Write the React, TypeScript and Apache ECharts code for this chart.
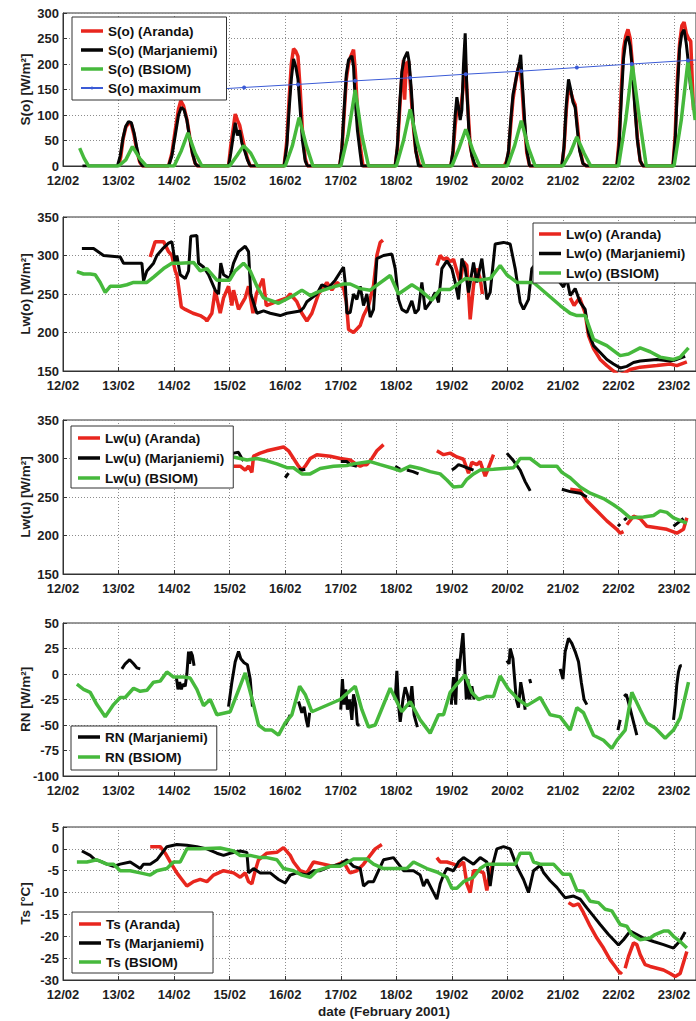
import React, { useEffect, useRef } from "react";
import * as echarts from "echarts";

type Pt = (number | string)[];

// ---------- tick labels ----------
const dayTicks = [12, 13, 14, 15, 16, 17, 18, 19, 20, 21, 22, 23];
const monthSuffix = "/02";
const xTitle = "date (February 2001)";

// ---------- Panel 1: S(o) ----------
const soAranda: Pt[] = [
  [13.0, 0], [13.04, 18], [13.08, 52], [13.13, 76], [13.18, 84], [13.23, 82], [13.28, 60], [13.33, 30], [13.38, 8], [13.43, 0],
  [13.9, 0], [13.96, 25], [14.02, 70], [14.08, 112], [14.12, 128], [14.17, 118], [14.23, 92], [14.28, 58], [14.33, 25], [14.38, 5], [14.42, 0],
  [14.98, 0], [15.02, 40], [15.06, 70], [15.1, 102], [15.14, 90], [15.18, 80], [15.22, 60], [15.27, 35], [15.32, 15], [15.37, 0],
  [15.98, 0], [16.03, 50], [16.07, 130], [16.11, 200], [16.15, 230], [16.19, 225], [16.23, 215], [16.27, 150], [16.31, 70], [16.36, 15], [16.4, 0],
  [16.98, 0], [17.02, 30], [17.06, 100], [17.1, 170], [17.14, 200], [17.18, 215], [17.23, 228], [17.26, 190], [17.3, 110], [17.35, 40], [17.4, 0],
  [17.98, 0], [18.02, 35], [18.06, 110], [18.1, 175], [18.13, 208], [18.15, 130], [18.18, 200], [18.22, 205], [18.26, 150], [18.3, 85], [18.35, 30], [18.42, 0],
  [18.98, 0], [19.02, 25], [19.06, 80], [19.1, 120], [19.15, 100], [19.2, 150], [19.24, 205], [19.28, 130], [19.33, 40], [19.4, 0],
  [19.94, 0], [19.98, 8], [20.02, 25], [20.06, 80], [20.1, 130], [20.14, 160], [20.18, 185], [20.22, 200], [20.26, 160], [20.3, 90], [20.35, 25], [20.4, 0],
  [20.98, 0], [21.02, 35], [21.06, 110], [21.1, 155], [21.14, 145], [21.18, 130], [21.22, 120], [21.26, 80], [21.3, 35], [21.36, 5], [21.42, 0],
  [21.97, 0], [22.01, 50], [22.05, 150], [22.09, 230], [22.13, 255], [22.17, 268], [22.21, 250], [22.25, 200], [22.29, 130], [22.34, 55], [22.39, 10], [22.44, 0],
  [22.98, 0], [23.02, 60], [23.06, 170], [23.1, 240], [23.14, 275], [23.18, 282], [23.22, 260], [23.26, 250], [23.3, 245], [23.33, 160], [23.35, 110],
];
const soMarj: Pt[] = [
  [12.35, 0], [12.98, 0], [13.03, 20], [13.08, 55], [13.13, 78], [13.18, 87], [13.23, 85], [13.28, 65], [13.33, 35], [13.38, 10], [13.43, 0],
  [13.9, 0], [13.96, 20], [14.02, 60], [14.08, 100], [14.13, 115], [14.18, 110], [14.23, 90], [14.28, 55], [14.33, 25], [14.38, 5], [14.42, 0],
  [14.98, 0], [15.02, 25], [15.06, 55], [15.1, 85], [15.14, 60], [15.18, 70], [15.22, 45], [15.27, 30], [15.32, 12], [15.37, 0],
  [15.98, 0], [16.03, 40], [16.07, 110], [16.11, 170], [16.15, 210], [16.19, 195], [16.23, 170], [16.27, 110], [16.31, 50], [16.36, 10], [16.4, 0],
  [16.98, 0], [17.02, 35], [17.06, 110], [17.1, 180], [17.14, 208], [17.2, 216], [17.23, 195], [17.26, 130], [17.3, 70], [17.35, 25], [17.38, 0],
  [17.98, 0], [18.02, 40], [18.06, 120], [18.1, 185], [18.14, 210], [18.2, 224], [18.23, 205], [18.27, 150], [18.31, 80], [18.35, 30], [18.4, 0],
  [18.98, 0], [19.02, 30], [19.06, 100], [19.09, 135], [19.12, 115], [19.15, 90], [19.18, 110], [19.21, 200], [19.24, 260], [19.27, 150], [19.31, 60], [19.36, 20], [19.42, 0],
  [19.97, 0], [20.02, 30], [20.06, 90], [20.1, 140], [20.14, 162], [20.18, 185], [20.22, 205], [20.24, 218], [20.27, 160], [20.31, 90], [20.35, 30], [20.4, 0],
  [20.98, 0], [21.02, 40], [21.06, 120], [21.1, 170], [21.14, 150], [21.18, 125], [21.22, 115], [21.26, 70], [21.3, 30], [21.36, 5], [21.42, 0],
  [21.97, 0], [22.01, 40], [22.05, 130], [22.09, 210], [22.13, 245], [22.17, 254], [22.21, 235], [22.25, 190], [22.29, 120], [22.34, 50], [22.39, 10], [22.44, 0],
  [22.98, 0], [23.02, 50], [23.06, 150], [23.1, 230], [23.14, 260], [23.18, 267], [23.22, 240], [23.26, 200], [23.3, 150],
];
const soBsiom: Pt[] = [
  [12.3, 35], [12.38, 15], [12.46, 0], [13.0, 0], [13.13, 12], [13.25, 38], [13.38, 15], [13.5, 0],
  [14.0, 0], [14.13, 30], [14.25, 65], [14.38, 25], [14.5, 0], [15.0, 0], [15.13, 20], [15.25, 40], [15.38, 25], [15.5, 0],
  [16.0, 0], [16.13, 40], [16.25, 95], [16.38, 40], [16.5, 0], [17.0, 0], [17.13, 60], [17.26, 149], [17.38, 60], [17.5, 0],
  [18.0, 0], [18.13, 50], [18.25, 111], [18.38, 45], [18.5, 0], [19.0, 0], [19.13, 35], [19.25, 72], [19.38, 30], [19.5, 0],
  [20.0, 0], [20.13, 40], [20.25, 89], [20.38, 35], [20.5, 0], [21.0, 0], [21.13, 25], [21.25, 57], [21.38, 25], [21.5, 0],
  [22.0, 0], [22.13, 90], [22.25, 198], [22.38, 90], [22.5, 0], [23.0, 0], [23.13, 90], [23.25, 205], [23.38, 90],
];
const soMax: Pt[] = [
  [12.25, 135], [13.25, 141], [14.25, 147], [15.26, 154], [16.23, 160], [17.26, 167], [18.25, 173],
  [19.25, 180], [20.25, 186], [21.25, 193], [22.24, 200], [23.25, 207], [24.25, 213],
];

// ---------- Panel 2: Lw(o) ----------
const lwoAranda: Pt[] = [
  [13.57, 298], [13.66, 318], [13.81, 318], [13.9, 305], [13.96, 300], [14.02, 280], [14.05, 275], [14.09, 255], [14.13, 233],
  [14.2, 230], [14.34, 225], [14.47, 222], [14.56, 218], [14.59, 215], [14.68, 225], [14.74, 255], [14.83, 225], [14.89, 245],
  [14.98, 260], [15.04, 235], [15.07, 255], [15.16, 230], [15.28, 245], [15.34, 260], [15.42, 225], [15.48, 250], [15.6, 270],
  [15.66, 235], [15.84, 240], [16.03, 245], [16.09, 250], [16.21, 240], [16.3, 225], [16.39, 215], [16.48, 225], [16.6, 250],
  [16.75, 265], [16.84, 255], [16.93, 265], [17.05, 258], [17.1, 240], [17.14, 204], [17.23, 200], [17.35, 209], [17.41, 222],
  [17.5, 235], [17.59, 261], [17.65, 300], [17.71, 317], [17.76, 320], [17.8, "-"],
  [18.73, 287], [18.79, 300], [18.85, 295], [18.91, 297], [18.97, 292], [19.03, 295], [19.09, 280], [19.15, 265], [19.21, 292],
  [19.27, 287], [19.33, 217], [19.39, 261], [19.45, 283], [19.51, 270], [19.55, 250], [19.6, "-"],
  [21.13, 245], [21.2, 235], [21.3, 245], [21.4, 225], [21.46, 196], [21.55, 179], [21.67, 165], [21.79, 157], [21.91, 150],
  [22.0, 145], [22.1, 147], [22.21, 152], [22.39, 155], [22.69, 157], [22.93, 159], [23.05, 157], [23.23, 162],
];
const lwoMarj: Pt[] = [
  [12.34, 309], [12.55, 309], [12.73, 300], [13.03, 298], [13.09, 290], [13.42, 290], [13.45, 267], [13.51, 280], [13.63, 290],
  [13.69, 300], [13.81, 310], [13.9, 316], [13.96, 318], [14.02, 290], [14.05, 300], [14.11, 275], [14.2, 270], [14.26, 280],
  [14.3, 325], [14.41, 326], [14.44, 290], [14.53, 285], [14.62, 275], [14.68, 265], [14.74, 255], [14.8, 250], [14.84, 290],
  [14.89, 275], [15.0, 270], [15.07, 290], [15.16, 305], [15.28, 312], [15.34, 305], [15.38, 250], [15.49, 225], [15.61, 228],
  [15.73, 225], [15.91, 222], [16.03, 225], [16.27, 228], [16.33, 232], [16.39, 240], [16.48, 245], [16.57, 250], [16.66, 262],
  [16.78, 258], [16.9, 268], [17.05, 285], [17.08, 265], [17.11, 225], [17.17, 226], [17.23, 250], [17.29, 243], [17.35, 260],
  [17.41, 235], [17.47, 250], [17.53, 220], [17.59, 230], [17.65, 296], [17.77, 300], [17.92, 302], [17.98, 283], [18.04, 243],
  [18.1, 230], [18.19, 226], [18.28, 241], [18.34, 225], [18.4, 230], [18.46, 265], [18.52, 230], [18.61, 239], [18.7, 252],
  [18.76, 239], [18.82, 283], [18.91, 293], [19.0, 283], [19.06, 265], [19.12, 243], [19.18, 296], [19.24, 283], [19.3, 252],
  [19.39, 291], [19.45, 265], [19.54, 296], [19.63, 243], [19.69, 252], [19.78, 315], [19.93, 317], [20.05, 315], [20.14, 283],
  [20.23, 239], [20.29, 230], [20.38, 243], [20.44, 283], [20.53, 291], [20.71, 280], [20.89, 270], [21.01, 259], [21.07, 270],
  [21.13, 248], [21.22, 257], [21.31, 239], [21.4, 230], [21.46, 200], [21.55, 183], [21.67, 174], [21.79, 165], [21.91, 159],
  [22.03, 154], [22.15, 156], [22.27, 161], [22.39, 163], [22.69, 165], [22.93, 163], [23.05, 165], [23.2, 169],
];
const lwoBsiom: Pt[] = [
  [12.25, 279], [12.37, 276], [12.49, 276], [12.58, 275], [12.67, 265], [12.76, 252], [12.85, 260], [13.03, 260], [13.15, 262],
  [13.27, 265], [13.51, 265], [13.63, 272], [13.81, 283], [13.96, 290], [14.1, 290], [14.35, 291], [14.47, 280], [14.59, 283],
  [14.77, 268], [15.0, 268], [15.1, 280], [15.25, 290], [15.37, 280], [15.49, 260], [15.61, 245], [15.88, 238], [16.15, 248],
  [16.3, 255], [16.45, 248], [16.57, 252], [16.81, 258], [17.05, 263], [17.17, 263], [17.35, 257], [17.53, 255], [17.89, 274],
  [18.04, 250], [18.28, 262], [18.43, 255], [18.64, 242], [18.79, 256], [18.97, 256], [19.24, 270], [19.51, 268], [19.69, 270],
  [19.87, 287], [19.99, 275], [20.17, 265], [20.35, 265], [20.47, 265], [20.71, 250], [20.95, 235], [21.13, 225], [21.25, 222],
  [21.4, 222], [21.55, 191], [21.79, 183], [22.03, 170], [22.18, 172], [22.39, 180], [22.57, 175], [22.75, 168], [22.99, 165],
  [23.11, 168], [23.26, 180],
];

// ---------- Panel 3: Lw(u) ----------
const lwuAranda: Pt[] = [
  [15.07, 290], [15.19, 290], [15.28, 285], [15.34, 290], [15.4, 282], [15.43, 303], [15.55, 307], [15.67, 310], [15.85, 313],
  [15.97, 315], [16.06, 310], [16.15, 300], [16.24, 290], [16.3, 285], [16.36, 290], [16.45, 300], [16.57, 305], [16.81, 303],
  [16.99, 300], [17.17, 298], [17.29, 292], [17.35, 290], [17.41, 292], [17.47, 292], [17.56, 300], [17.65, 310], [17.77, 318], [17.8, "-"],
  [18.73, 310], [18.85, 305], [18.97, 307], [19.09, 302], [19.21, 299], [19.3, 281], [19.36, 295], [19.45, 292], [19.51, 296],
  [19.6, 277], [19.66, 288], [19.75, 305], [19.78, "-"],
  [21.13, 260], [21.31, 258], [21.43, 245], [21.61, 232], [21.79, 219], [21.97, 208], [22.03, 203], [22.09, 205], [22.12, "-"],
  [22.15, 214], [22.27, 225], [22.39, 222], [22.51, 212], [22.69, 210], [22.87, 208], [23.05, 203], [23.17, 208], [23.23, 223],
];
const lwuMarj: Pt[] = [
  [15.0, 303], [15.07, 307], [15.16, 308], [15.22, 300], [15.25, 297], [15.28, "-"],
  [16.0, 275], [16.06, 281], [16.08, "-"],
  [16.24, 286], [16.3, 285], [16.36, 286], [16.38, "-"],
  [17.0, 296], [17.11, 296], [17.17, 292], [17.29, 290], [17.32, "-"],
  [17.98, 290], [18.07, 286], [18.1, "-"], [18.19, 285], [18.3, 283], [18.4, 280], [18.42, "-"],
  [19.0, 285], [19.06, 288], [19.12, 292], [19.2, 290], [19.27, 288], [19.39, 285], [19.41, "-"],
  [19.99, 307], [20.11, 297], [20.23, 285], [20.32, 270], [20.38, 262], [20.41, 258], [20.43, "-"],
  [20.98, 260], [21.13, 257], [21.31, 255], [21.43, 250], [21.45, "-"],
  [21.99, 212], [22.03, 215], [22.05, "-"], [22.1, 220], [22.15, 223], [22.17, "-"],
  [22.99, 212], [23.08, 217], [23.17, 222],
];
const lwuBsiom: Pt[] = [
  [14.9, 304], [15.0, 303], [15.19, 300], [15.31, 298], [15.49, 300], [15.67, 297], [15.85, 293], [16.03, 288], [16.15, 288],
  [16.3, 280], [16.45, 280], [16.63, 287], [16.87, 290], [17.11, 291], [17.23, 293], [17.53, 296], [17.71, 292], [17.95, 287],
  [18.07, 284], [18.25, 290], [18.43, 287], [18.61, 283], [18.79, 280], [18.91, 272], [19.03, 263], [19.18, 264], [19.27, 273],
  [19.39, 280], [19.51, 285], [19.75, 286], [20.11, 288], [20.23, 300], [20.41, 300], [20.59, 290], [20.89, 290], [20.98, 282],
  [21.13, 275], [21.31, 263], [21.49, 255], [21.73, 248], [21.91, 240], [22.03, 234], [22.21, 223], [22.45, 224], [22.63, 226],
  [22.75, 232], [22.87, 230], [22.99, 223], [23.23, 216],
];

// ---------- Panel 4: RN ----------
const rnMarj: Pt[] = [
  [13.06, 5], [13.12, 10], [13.2, 14], [13.27, 10], [13.33, 6], [13.39, 5], [13.41, "-"],
  [14.04, -3], [14.07, -15], [14.1, -8], [14.13, -15], [14.16, -10], [14.2, -12], [14.23, 0], [14.26, 22], [14.28, 10], [14.3, 22], [14.33, 18], [14.36, 8], [14.38, "-"],
  [14.98, -32], [15.04, -8], [15.1, 12], [15.16, 22], [15.2, 15], [15.26, 11], [15.32, 9], [15.37, -5], [15.41, -32], [15.43, "-"],
  [16.0, -50], [16.05, -45], [16.09, -40], [16.11, "-"],
  [16.24, -27], [16.3, -38], [16.34, -32], [16.38, -45], [16.41, -52], [16.44, -38], [16.46, "-"],
  [17.0, -35], [17.03, -5], [17.06, -30], [17.09, -15], [17.12, -35], [17.16, -25], [17.2, -45], [17.23, -20], [17.27, -30], [17.3, -50], [17.34, -50], [17.36, "-"],
  [17.98, -25], [18.01, 3], [18.04, -30], [18.07, -47], [18.12, -25], [18.16, -13], [18.2, -20], [18.24, -32], [18.28, -12], [18.32, -40], [18.38, -52], [18.4, "-"],
  [18.99, -30], [19.03, -3], [19.07, -30], [19.1, 15], [19.13, 3], [19.17, 25], [19.2, 40], [19.23, 8], [19.26, -25], [19.29, -5], [19.32, -25], [19.36, -12], [19.4, -25], [19.42, "-"],
  [19.99, 13], [20.03, 10], [20.05, 25], [20.1, 15], [20.13, -5], [20.16, -25], [20.2, -33], [20.24, -8], [20.28, -20], [20.32, -35], [20.34, "-"], [20.4, -5], [20.42, -9], [20.44, "-"],
  [20.95, 5], [21.0, -5], [21.04, 22], [21.1, 35], [21.16, 30], [21.22, 22], [21.28, 12], [21.33, -8], [21.38, -25], [21.43, -30], [21.45, "-"],
  [21.99, -55], [22.03, -45], [22.05, "-"], [22.1, -22], [22.14, -20], [22.2, -32], [22.26, -45], [22.33, -60], [22.35, "-"],
  [22.99, -45], [23.02, -30], [23.05, -10], [23.08, 2], [23.11, 8], [23.14, 8],
];
const rnBsiom: Pt[] = [
  [12.25, -10], [12.37, -15], [12.49, -18], [12.61, -30], [12.76, -42], [12.91, -30], [13.03, -23], [13.12, -23], [13.27, -14],
  [13.39, -17], [13.51, -16], [13.63, -8], [13.75, -7], [13.87, 2], [13.99, -3], [14.17, -3], [14.29, -4], [14.41, -15],
  [14.53, -31], [14.65, -25], [14.77, -40], [15.01, -37], [15.28, 1], [15.43, -30], [15.52, -50], [15.64, -55], [15.76, -55],
  [15.88, -60], [16.0, -48], [16.12, -40], [16.26, -12], [16.36, -20], [16.48, -37], [16.99, -25], [17.26, -12], [17.38, -35],
  [17.5, -52], [17.62, -50], [17.89, -14], [18.1, -37], [18.25, -27], [18.43, -45], [18.61, -58], [18.76, -40], [18.85, -40],
  [18.97, -18], [19.09, -10], [19.24, -1], [19.36, -18], [19.48, -25], [19.63, -22], [19.75, -22], [19.87, -2], [20.02, -15],
  [20.2, -25], [20.35, -31], [20.59, -23], [20.77, -40], [20.95, -42], [21.13, -55], [21.25, -33], [21.37, -38], [21.55, -60],
  [21.73, -65], [21.88, -73], [21.97, -65], [22.12, -55], [22.24, -18], [22.39, -35], [22.51, -48], [22.66, -53], [22.84, -63],
  [22.99, -55], [23.11, -43], [23.26, -8],
];

// ---------- Panel 5: Ts ----------
const tsAranda: Pt[] = [
  [13.57, 0.5], [13.75, 0.5], [13.84, -1], [13.93, -3], [14.05, -5.5], [14.14, -7], [14.23, -8.5], [14.35, -7.5], [14.47, -7],
  [14.59, -7.5], [14.71, -6], [14.89, -5], [15.07, -5.5], [15.19, -6.5], [15.28, -5.5], [15.34, -7.5], [15.4, -8], [15.46, -5],
  [15.52, -2.5], [15.67, -1], [15.85, -0.8], [15.97, 0.3], [16.09, -1.5], [16.15, -3], [16.27, -5], [16.39, -5.5], [16.51, -3],
  [16.69, -3.5], [16.87, -4], [17.05, -3], [17.14, -5], [17.17, -5.5], [17.29, -5], [17.41, -3.5], [17.53, -1.5], [17.62, 0],
  [17.74, 1], [17.76, "-"],
  [18.73, -2], [18.79, -3], [18.91, -3], [19.03, -3.5], [19.12, -4], [19.21, -3], [19.27, -8], [19.33, -10], [19.39, -5],
  [19.48, -5], [19.57, -5.5], [19.63, -9.5], [19.69, -5], [19.75, -3], [19.77, "-"],
  [21.1, -12.3], [21.19, -13], [21.28, -12.6], [21.37, -14.6], [21.49, -17.7], [21.61, -20.4], [21.73, -22.7], [21.85, -25.4],
  [21.94, -26.9], [22.03, -28.5], [22.06, -28.1], [22.09, "-"],
  [22.12, -27.3], [22.18, -24.6], [22.27, -21.5], [22.33, -21.9], [22.39, -24.2], [22.48, -26.5], [22.57, -26.9], [22.69, -27.3],
  [22.81, -27.7], [22.93, -28.5], [23.02, -29.2], [23.11, -28.5], [23.23, -23.5],
];
const tsMarj: Pt[] = [
  [12.34, -0.5], [12.49, -1.5], [12.58, -2.5], [12.67, -2.8], [12.79, -3.5], [12.91, -4], [13.03, -3.5], [13.21, -3], [13.39, -4.5],
  [13.45, -3.5], [13.57, -3.5], [13.69, -2.5], [13.78, -1], [13.87, 0.5], [14.05, 1], [14.23, 0.8], [14.41, 0.5], [14.59, 0],
  [14.77, -1], [14.89, -1.5], [15.01, -1], [15.19, -0.5], [15.31, -0.8], [15.34, -5.5], [15.43, -4.5], [15.55, -5.5], [15.73, -5.5],
  [15.88, -7], [16.0, -7.8], [16.09, -6], [16.21, -5.5], [16.39, -6], [16.51, -5], [16.63, -5], [16.81, -4], [16.99, -3.5],
  [17.11, -2.5], [17.23, -4], [17.35, -4.5], [17.41, -8.5], [17.5, -7.5], [17.59, -7.5], [17.68, -5], [17.77, -2.5], [17.95, -2],
  [18.04, -3.5], [18.13, -5], [18.31, -5], [18.43, -6], [18.49, -8.5], [18.55, -7], [18.67, -10], [18.73, -11.5], [18.79, -8],
  [18.85, -6], [18.91, -4.5], [19.03, -5], [19.12, -3], [19.21, -2], [19.27, -2.5], [19.39, -3.5], [19.51, -2], [19.63, -3],
  [19.69, -8.5], [19.75, -3], [19.81, 0], [19.93, 0.5], [20.05, 0], [20.17, -4], [20.29, -7], [20.38, -10], [20.47, -5],
  [20.59, -3.8], [20.65, -5.4], [20.77, -7.3], [20.89, -8.8], [21.04, -11.2], [21.19, -10.8], [21.31, -11.5], [21.43, -13.5],
  [21.55, -15.4], [21.67, -17.3], [21.82, -19.6], [21.91, -20.8], [22.0, -22], [22.09, -20.8], [22.21, -18.8], [22.33, -19.6],
  [22.45, -20.4], [22.63, -21.2], [22.81, -21.9], [22.99, -22.7], [23.11, -21], [23.2, -19],
];
const tsBsiom: Pt[] = [
  [12.25, -3], [12.43, -3], [12.61, -2.5], [12.79, -3.5], [12.91, -3.5], [13.03, -5], [13.21, -5], [13.39, -5.5], [13.57, -6],
  [13.69, -5], [13.87, -4.5], [13.99, -3], [14.11, -3], [14.23, 0], [14.47, 0], [14.83, 0.2], [15.07, -0.5], [15.19, -1.5],
  [15.37, -1.5], [15.55, -2], [15.67, -2], [15.85, -2.5], [15.97, -4.5], [16.15, -5], [16.3, -6], [16.45, -6.5], [16.57, -5],
  [16.81, -4], [16.99, -4], [17.23, -2.3], [17.47, -2.3], [17.59, -3.5], [17.77, -4.5], [18.19, -4.5], [18.31, -3], [18.55, -4.5],
  [18.73, -5.3], [18.91, -6.5], [19.0, -9], [19.09, -9], [19.21, -7.5], [19.39, -6.5], [19.51, -4.5], [19.63, -3.5], [20.14, -3.5],
  [20.23, -1], [20.41, -1], [20.47, -3], [20.59, -3.5], [20.83, -3.5], [21.0, -5.8], [21.13, -5.8], [21.25, -9.5], [21.37, -9.7],
  [21.49, -12], [21.64, -12.3], [21.76, -13.8], [21.88, -14.2], [22.03, -17.3], [22.15, -17.7], [22.24, -19.6], [22.39, -20.8],
  [22.57, -20.4], [22.66, -19.6], [22.81, -18.8], [22.9, -18.8], [22.99, -20], [23.11, -21.2], [23.23, -22.7],
];

// ---------- styling ----------
const RED = "#e8261e";
const BLACK = "#050505";
const GREEN = "#46b93c";
const BLUE = "#3b5bd6";
const FONT = "'Liberation Sans', Arial, Helvetica, sans-serif";
const TXT = "#1e1e1e";

const panels = [
  { top: 13, height: 153, min: 0, max: 300, interval: 50, name: "S(o) [W/m²]" },
  { top: 217, height: 154, min: 150, max: 350, interval: 50, name: "Lw(o) [W/m²]" },
  { top: 420, height: 154, min: 150, max: 350, interval: 50, name: "Lw(u) [W/m²]" },
  { top: 623, height: 153, min: -100, max: 50, interval: 25, name: "RN [W/m²]" },
  { top: 827, height: 153, min: -30, max: 5, interval: 5, name: "Ts [°C]" },
];

export default function App() {
  const ref = useRef<HTMLDivElement>(null);
  useEffect(() => {
    if (!ref.current) return;
    const chart = echarts.init(ref.current, undefined, { renderer: "svg" });
    const dotted = { show: true, lineStyle: { type: [1, 2] as any, color: "#8c8c8c", width: 1 } };
    const grids = panels.map((p) => ({
      left: 63, right: -1, top: p.top, height: p.height, show: true,
      borderColor: "#333", borderWidth: 1, backgroundColor: "#fff",
    }));
    const xAxes = panels.map((_, i) => ({
      type: "value", gridIndex: i, min: dayTicks[0], max: 23.395, interval: 1,
      axisLine: { show: true, onZero: false, lineStyle: { color: "#333" } },
      axisTick: { show: true, inside: true, length: 4, lineStyle: { color: "#333" } },
      axisLabel: {
        showMaxLabel: false, margin: 8, fontWeight: "bold", fontSize: 13, color: TXT, fontFamily: FONT,
        formatter: (v: number) => (dayTicks.includes(v) ? `${v}${monthSuffix}` : ""),
      },
      splitLine: dotted,
    }));
    const yAxes = panels.map((p, i) => ({
      type: "value", gridIndex: i, min: p.min, max: p.max, interval: p.interval,
      name: p.name, nameLocation: "middle", nameGap: 31, nameMoveOverlap: false,
      nameTextStyle: { fontWeight: "bold", fontSize: 13.5, color: TXT, fontFamily: FONT },
      axisLine: { show: true, onZero: false, lineStyle: { color: "#333" } },
      axisTick: { show: true, inside: true, length: 4, lineStyle: { color: "#333" } },
      axisLabel: { margin: 4, fontWeight: "bold", fontSize: 13, color: TXT, fontFamily: FONT },
      splitLine: dotted,
    }));
    const line = (name: string, data: Pt[], color: string, i: number, width = 3) => ({
      type: "line", name, data, xAxisIndex: i, yAxisIndex: i, color,
      symbol: "none", connectNulls: false, clip: true,
      lineStyle: { color, width }, itemStyle: { color },
    });
    const legendBase = {
      orient: "vertical", backgroundColor: "#fff", borderColor: "#333", borderWidth: 1,
      icon: "rect", itemGap: 5, itemWidth: 22, itemHeight: 3.5, borderRadius: 0,
      textStyle: { fontWeight: "bold", fontSize: 13.5, lineHeight: 14, color: "#111", fontFamily: FONT },
    };
    chart.setOption({
      animation: false,
      textStyle: { fontFamily: FONT },
      grid: grids,
      xAxis: xAxes,
      yAxis: yAxes,
      legend: [
        {
          ...legendBase, left: 72, top: 17, padding: [7, 9, 5, 8],
          data: ["S(o) (Aranda)", "S(o) (Marjaniemi)", "S(o) (BSIOM)", { name: "S(o) maximum", icon: "inherit" }],
        },
        { ...legendBase, left: 533, top: 223, padding: [4, 12, 3, 6], itemGap: 5.5, data: ["Lw(o) (Aranda)", "Lw(o) (Marjaniemi)", "Lw(o) (BSIOM)"] },
        { ...legendBase, left: 71, top: 426, padding: [5, 9, 3, 7], itemGap: 6, data: ["Lw(u) (Aranda)", "Lw(u) (Marjaniemi)", "Lw(u) (BSIOM)"] },
        { ...legendBase, left: 71, top: 726, padding: [4, 9, 6, 7], itemGap: 6, data: ["RN (Marjaniemi)", "RN (BSIOM)"] },
        { ...legendBase, left: 72, top: 912, padding: [5, 9, 4, 7], data: ["Ts (Aranda)", "Ts (Marjaniemi)", "Ts (BSIOM)"] },
      ],
      graphic: [
        {
          type: "text", x: 384, y: 1011,
          style: { text: xTitle, fill: TXT, font: `bold 13.5px ${FONT}`, textAlign: "center", textVerticalAlign: "middle" },
        },
      ],
      series: [
        line("S(o) (Aranda)", soAranda, RED, 0, 3.5),
        line("S(o) (Marjaniemi)", soMarj, BLACK, 0, 3),
        line("S(o) (BSIOM)", soBsiom, GREEN, 0, 3.5),
        {
          type: "line", name: "S(o) maximum", data: soMax, xAxisIndex: 0, yAxisIndex: 0, color: BLUE,
          symbol: "circle", symbolSize: 4, clip: true,
          lineStyle: { color: BLUE, width: 1 }, itemStyle: { color: BLUE },
        },
        line("Lw(o) (Aranda)", lwoAranda, RED, 1, 3.5),
        line("Lw(o) (Marjaniemi)", lwoMarj, BLACK, 1, 3),
        line("Lw(o) (BSIOM)", lwoBsiom, GREEN, 1, 3.5),
        line("Lw(u) (Aranda)", lwuAranda, RED, 2, 3.5),
        line("Lw(u) (Marjaniemi)", lwuMarj, BLACK, 2, 3),
        line("Lw(u) (BSIOM)", lwuBsiom, GREEN, 2, 3.5),
        line("RN (Marjaniemi)", rnMarj, BLACK, 3, 3),
        line("RN (BSIOM)", rnBsiom, GREEN, 3, 3.5),
        line("Ts (Aranda)", tsAranda, RED, 4, 3.5),
        line("Ts (Marjaniemi)", tsMarj, BLACK, 4, 3),
        line("Ts (BSIOM)", tsBsiom, GREEN, 4, 3.5),
      ],
    } as any);
    return () => chart.dispose();
  }, []);
  return (
    <div
      ref={ref}
      style={{ position: "absolute", left: 0, top: 0, width: 696, height: 1021, background: "#fff" }}
    />
  );
}
